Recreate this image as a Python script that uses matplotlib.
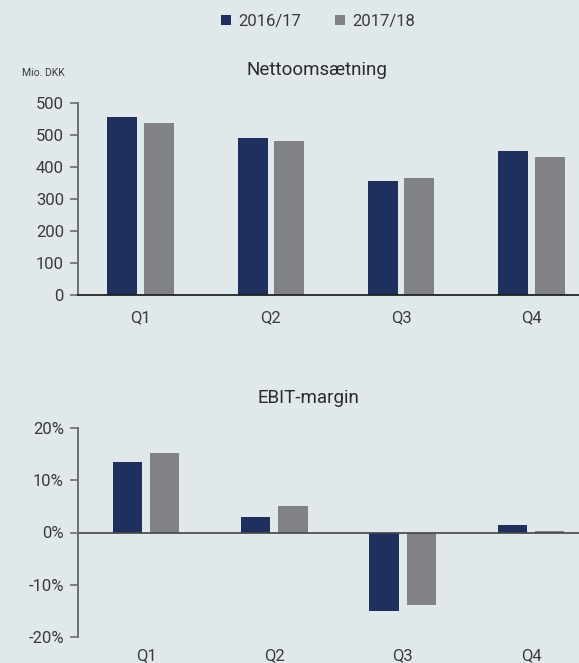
import matplotlib
matplotlib.use("Agg")
import matplotlib.pyplot as plt
from matplotlib.patches import Patch
import numpy as np

quarters = ["Q1", "Q2", "Q3", "Q4"]
series_names = ["2016/17", "2017/18"]
revenue_1617 = [557, 492, 357, 451]
revenue_1718 = [538, 482, 367, 432]
ebit_1617 = [13.5, 2.9, -15.1, 1.4]
ebit_1718 = [15.2, 5.0, -14.0, 0.25]
revenue_ticks = [0, 100, 200, 300, 400, 500, 600]
revenue_tick_labels = ["0", "100", "200", "300", "400", "500", "500"]
ebit_ticks = [-20, -10, 0, 10, 20]
ebit_tick_labels = ["-20%", "-10%", "0%", "10%", "20%"]

NAVY = "#1f2f5e"
GREY = "#818285"
BG = "#e0e8ec"
TXT = "#3a3a3a"
plt.rcParams["font.family"] = ["Roboto", "DejaVu Sans"]

W, H = 579, 663
fig = plt.figure(figsize=(W / 100, H / 100), dpi=100, facecolor=BG)

def fx(px):
    return px / W

def fy(py):
    return 1 - py / H

x = np.arange(len(quarters))

# top panel: net revenue
ax1 = fig.add_axes([fx(78), fy(295.3), 1 - fx(78), fy(103.3) - fy(295.3)])
ax1.set_facecolor(BG)
ax1.bar(x - 0.14, revenue_1617, width=0.23, color=NAVY)
ax1.bar(x + 0.14, revenue_1718, width=0.23, color=GREY)
ax1.set_xlim(-0.48, 3.365)
ax1.set_ylim(0, 600)
ax1.set_yticks(revenue_ticks)
ax1.set_yticklabels(revenue_tick_labels)
ax1.set_xticks(x)
ax1.set_xticklabels(quarters)

# bottom panel: EBIT margin
ax2 = fig.add_axes([fx(78), fy(636.7), 1 - fx(78), fy(428.3) - fy(636.7)])
ax2.set_facecolor(BG)
ax2.bar(x - 0.145, ebit_1617, width=0.23, color=NAVY)
ax2.bar(x + 0.145, ebit_1718, width=0.23, color=GREY)
ax2.axhline(0, color="#444444", linewidth=1.2)
ax2.set_xlim(-0.53, 3.374)
ax2.set_ylim(-20, 20)
ax2.set_yticks(ebit_ticks)
ax2.set_yticklabels(ebit_tick_labels)
ax2.set_xticks(x)
ax2.set_xticklabels(quarters)

for ax in (ax1, ax2):
    for s in ("top", "right"):
        ax.spines[s].set_visible(False)
    ax.spines["left"].set_color("#6d6e71")
    ax.spines["left"].set_linewidth(1.4)
    ax.tick_params(axis="y", direction="out", length=5.8, width=1.2,
                   color="#6d6e71", pad=4.3, labelsize=12, labelcolor=TXT)
    ax.tick_params(axis="x", length=0, labelsize=12, labelcolor=TXT)

ax1.spines["bottom"].set_color("#222222")
ax1.spines["bottom"].set_linewidth(1.3)
ax1.tick_params(axis="x", pad=10.5)
ax2.spines["bottom"].set_visible(False)
ax2.tick_params(axis="x", pad=8)

fig.text(fx(317), fy(70), "Nettoomsætning", ha="center", va="center",
         fontsize=13.5, color="#2a2a2a")
fig.text(fx(308), fy(398), "EBIT-margin", ha="center", va="center",
         fontsize=13.5, color="#2a2a2a")
fig.text(fx(43.5), fy(72.5), "Mio. DKK", ha="center", va="center",
         fontsize=7.5, color=TXT)

handles = [Patch(facecolor=NAVY), Patch(facecolor=GREY)]
fig.legend(handles, series_names, loc="center", bbox_to_anchor=(fx(318), fy(21.5)),
           ncol=2, frameon=False, fontsize=12, handlelength=0.6, handleheight=0.6,
           handletextpad=0.45, columnspacing=2.0, labelcolor=TXT)

fig.savefig("out.png", dpi=100, facecolor=BG)
